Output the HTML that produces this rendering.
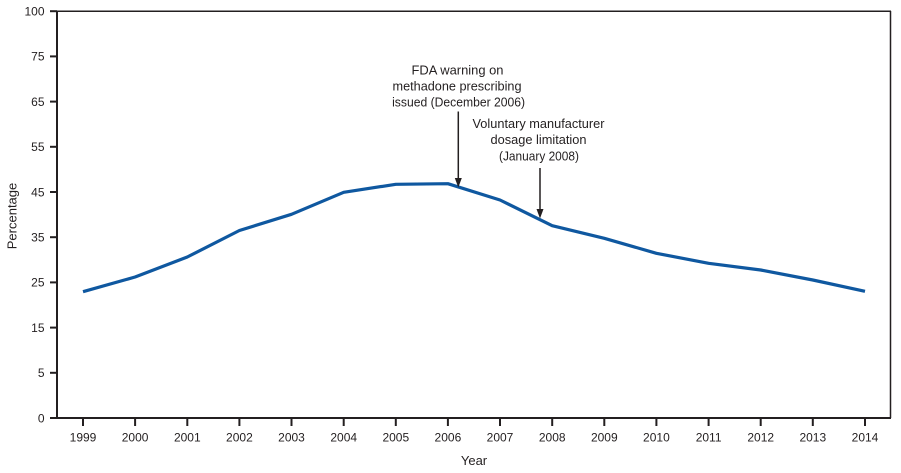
<!DOCTYPE html>
<html><head><meta charset="utf-8"><style>
html,body{margin:0;padding:0;background:#fff;}
svg{display:block;}
text{font-family:"Liberation Sans",sans-serif;fill:#231f20;}
</style></head><body>
<svg width="901" height="473" viewBox="0 0 901 473" xmlns="http://www.w3.org/2000/svg">
<!-- frame -->
<line x1="57" y1="11.2" x2="891" y2="11.2" stroke="#231f20" stroke-width="1.5"/>
<line x1="890.5" y1="11" x2="890.5" y2="418" stroke="#231f20" stroke-width="1.5"/>
<line x1="57" y1="10.5" x2="57" y2="419" stroke="#231f20" stroke-width="2"/>
<line x1="56" y1="418" x2="891" y2="418" stroke="#231f20" stroke-width="2"/>
<!-- y ticks -->
<g stroke="#231f20" stroke-width="2">
<line x1="50" y1="11.2" x2="57" y2="11.2"/>
<line x1="50" y1="56.4" x2="57" y2="56.4"/>
<line x1="50" y1="101.6" x2="57" y2="101.6"/>
<line x1="50" y1="146.8" x2="57" y2="146.8"/>
<line x1="50" y1="192" x2="57" y2="192"/>
<line x1="50" y1="237.2" x2="57" y2="237.2"/>
<line x1="50" y1="282.4" x2="57" y2="282.4"/>
<line x1="50" y1="327.6" x2="57" y2="327.6"/>
<line x1="50" y1="372.8" x2="57" y2="372.8"/>
<line x1="50" y1="418" x2="57" y2="418"/>
</g>
<g font-size="12" text-anchor="end">
<text x="44.5" y="15.5">100</text>
<text x="44.5" y="60.7">75</text>
<text x="44.5" y="105.9">65</text>
<text x="44.5" y="151.1">55</text>
<text x="44.5" y="196.3">45</text>
<text x="44.5" y="241.5">35</text>
<text x="44.5" y="286.7">25</text>
<text x="44.5" y="331.9">15</text>
<text x="44.5" y="377.1">5</text>
<text x="44.5" y="422.3">0</text>
</g>
<text x="0" y="0" font-size="13" text-anchor="middle" transform="translate(16.5,216) rotate(-90)">Percentage</text>
<!-- x ticks -->
<g stroke="#231f20" stroke-width="2">
<line x1="83" y1="418" x2="83" y2="426"/>
<line x1="135.1" y1="418" x2="135.1" y2="426"/>
<line x1="187.3" y1="418" x2="187.3" y2="426"/>
<line x1="239.4" y1="418" x2="239.4" y2="426"/>
<line x1="291.5" y1="418" x2="291.5" y2="426"/>
<line x1="343.7" y1="418" x2="343.7" y2="426"/>
<line x1="395.8" y1="418" x2="395.8" y2="426"/>
<line x1="447.9" y1="418" x2="447.9" y2="426"/>
<line x1="500" y1="418" x2="500" y2="426"/>
<line x1="552.2" y1="418" x2="552.2" y2="426"/>
<line x1="604.3" y1="418" x2="604.3" y2="426"/>
<line x1="656.4" y1="418" x2="656.4" y2="426"/>
<line x1="708.6" y1="418" x2="708.6" y2="426"/>
<line x1="760.7" y1="418" x2="760.7" y2="426"/>
<line x1="812.8" y1="418" x2="812.8" y2="426"/>
<line x1="865" y1="418" x2="865" y2="426"/>
</g>
<g font-size="12" text-anchor="middle">
<text x="83" y="441.5">1999</text>
<text x="135.1" y="441.5">2000</text>
<text x="187.3" y="441.5">2001</text>
<text x="239.4" y="441.5">2002</text>
<text x="291.5" y="441.5">2003</text>
<text x="343.7" y="441.5">2004</text>
<text x="395.8" y="441.5">2005</text>
<text x="447.9" y="441.5">2006</text>
<text x="500" y="441.5">2007</text>
<text x="552.2" y="441.5">2008</text>
<text x="604.3" y="441.5">2009</text>
<text x="656.4" y="441.5">2010</text>
<text x="708.6" y="441.5">2011</text>
<text x="760.7" y="441.5">2012</text>
<text x="812.8" y="441.5">2013</text>
<text x="865" y="441.5">2014</text>
</g>
<text x="474" y="465" font-size="13" text-anchor="middle">Year</text>
<!-- data line -->
<polyline fill="none" stroke="#0f58a0" stroke-width="3.2" stroke-linejoin="round" stroke-linecap="butt"
points="83,291.7 135.1,277 187.3,257 239.4,230.5 291.5,214.3 343.7,192.3 395.8,184.3 447.9,183.7 500,200 552.2,225.7 604.3,238.3 656.4,253.3 708.6,263.3 760.7,270 812.8,280 865,291.3"/>
<!-- arrows -->
<line x1="458.3" y1="111.5" x2="458.3" y2="180" stroke="#231f20" stroke-width="1.5"/>
<polygon points="454.8,178 461.8,178 458.3,187.5" fill="#231f20"/>
<line x1="540" y1="168" x2="540" y2="211" stroke="#231f20" stroke-width="1.5"/>
<polygon points="536.5,209 543.5,209 540,218.5" fill="#231f20"/>
<!-- annotations -->
<g font-size="13" text-anchor="middle">
<text x="457.5" y="74.5" textLength="92" lengthAdjust="spacingAndGlyphs">FDA warning  on</text>
<text x="457" y="90.5" textLength="129" lengthAdjust="spacingAndGlyphs">methadone prescribing</text>
<text x="458.6" y="106.3" textLength="133" lengthAdjust="spacingAndGlyphs">issued (December 2006)</text>
<text x="538.5" y="127.8" textLength="132" lengthAdjust="spacingAndGlyphs">Voluntary manufacturer</text>
<text x="538.5" y="143.8" textLength="96" lengthAdjust="spacingAndGlyphs">dosage limitation</text>
<text x="539" y="160.5" textLength="80" lengthAdjust="spacingAndGlyphs">(January 2008)</text>
</g>
</svg>
</body></html>
